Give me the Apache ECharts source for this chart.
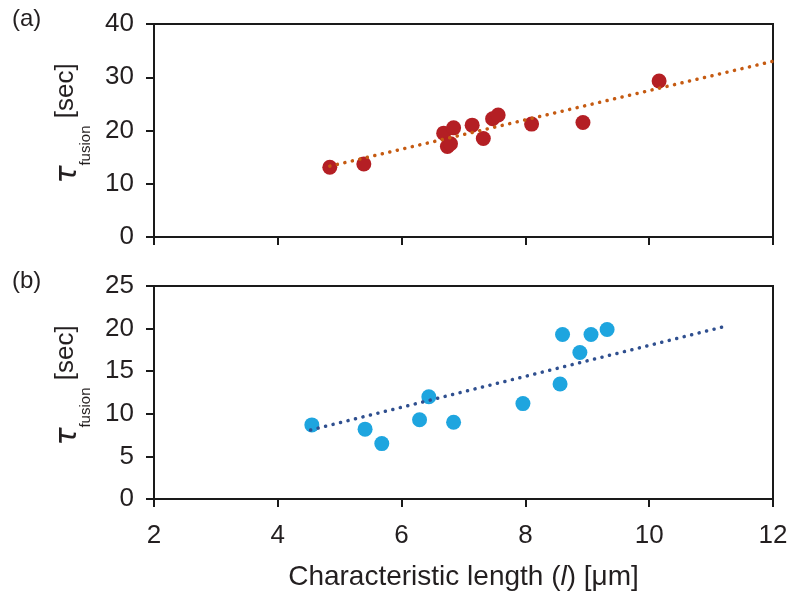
<!DOCTYPE html>
<html><head><meta charset="utf-8">
<script src="https://cdn.jsdelivr.net/npm/echarts@6/dist/echarts.min.js"></script>
<style>html,body{margin:0;padding:0;background:#fff}#c{width:791px;height:594px}</style>
</head><body><div id="c"></div>
<script>
// Panel (a)
const lengthA = [4.84, 5.39, 6.68, 6.84, 6.74, 6.79, 7.14, 7.32, 7.47, 7.56, 8.10, 8.93, 10.16];
const tauA    = [13.1, 13.7, 19.5, 20.5, 17.0, 17.5, 21.0, 18.5, 22.2, 22.9, 21.2, 21.5, 29.3];
const trendAx = [4.84, 12];
const trendAy = [13.3, 33.0];
// Panel (b)
const lengthB = [4.55, 5.41, 5.68, 6.29, 6.44, 6.84, 7.96, 8.56, 8.60, 8.88, 9.06, 9.32];
const tauB    = [8.7, 8.2, 6.5, 9.3, 12.0, 9.0, 11.2, 13.5, 19.3, 17.2, 19.3, 19.9];
const trendBx = [4.53, 11.25];
const trendBy = [8.1, 20.3];
const xTicks = [2, 4, 6, 8, 10, 12];
const yTicksA = [0, 10, 20, 30, 40];
const yTicksB = [0, 5, 10, 15, 20, 25];

const FONT = 'Liberation Sans';
const axisCol = '#1a1a1a';
const txtCol = '#231f20';
const zip = (a, b) => a.map((v, i) => [v, b[i]]);

function xAxis(idx, showLabels, name) {
  return {
    type: 'value', gridIndex: idx, min: xTicks[0], max: xTicks[xTicks.length - 1], interval: 2,
    axisLine: {lineStyle: {color: axisCol, width: 2}},
    axisTick: {show: true, inside: false, length: 8, lineStyle: {color: axisCol, width: 2}},
    axisLabel: {show: showLabels, fontFamily: FONT, fontSize: 26, color: txtCol, margin: 24},
    splitLine: {show: false},
    name: name || '', nameLocation: 'middle', nameGap: 64,
    nameTextStyle: {fontFamily: FONT, fontSize: 28, color: txtCol,
      rich: {i: {fontFamily: FONT, fontSize: 28, fontStyle: 'italic', color: txtCol}}}
  };
}
function yAxis(idx, ticks) {
  return {
    type: 'value', gridIndex: idx, min: ticks[0], max: ticks[ticks.length - 1], interval: ticks[1] - ticks[0],
    axisLine: {show: true, lineStyle: {color: axisCol, width: 2}},
    axisTick: {show: true, inside: false, length: 8, lineStyle: {color: axisCol, width: 2}},
    axisLabel: {fontFamily: FONT, fontSize: 26, color: txtCol, margin: 20},
    splitLine: {show: false},
    name: '{t|τ}{s|fusion}{u| [sec]}', nameLocation: 'middle', nameGap: 61, nameRotate: 90,
    nameTextStyle: {
      rich: {
        t: {fontFamily: 'DejaVu Sans', fontStyle: 'italic', fontSize: 30, color: txtCol, verticalAlign: 'top', lineHeight: 30, padding: [7, 0, 0, 14]},
        s: {fontFamily: FONT, fontSize: 15, color: txtCol, verticalAlign: 'bottom', padding: [32, 0, 0, 0]},
        u: {fontFamily: FONT, fontSize: 26, color: txtCol, verticalAlign: 'top', lineHeight: 30, padding: [7, 0, 0, 0]}
      }
    }
  };
}
const dot = (color) => ({color: color, width: 3.5, type: [0.1, 7.6], cap: 'round'});

const chart = echarts.init(document.getElementById('c'), null, {renderer: 'canvas'});
chart.setOption({
  animation: false,
  backgroundColor: '#fff',
  grid: [
    {left: 154, top: 24, width: 619, height: 213, show: true, borderColor: axisCol, borderWidth: 2},
    {left: 154, top: 286, width: 619, height: 213, show: true, borderColor: axisCol, borderWidth: 2}
  ],
  xAxis: [xAxis(0, false), xAxis(1, true, 'Characteristic length ({i|l}) [μm]')],
  yAxis: [yAxis(0, yTicksA), yAxis(1, yTicksB)],
  graphic: [
    {type: 'text', left: 12, top: 7, style: {text: '(a)', fontFamily: FONT, fontSize: 24, fill: txtCol}},
    {type: 'text', left: 12, top: 269, style: {text: '(b)', fontFamily: FONT, fontSize: 24, fill: txtCol}}
  ],
  series: [
    {type: 'scatter', xAxisIndex: 0, yAxisIndex: 0, data: zip(lengthA, tauA), symbolSize: 15,
      itemStyle: {color: '#b41f24', opacity: 1}, z: 2},
    {type: 'line', xAxisIndex: 0, yAxisIndex: 0, data: zip(trendAx, trendAy), symbol: 'none',
      lineStyle: dot('#c55a11'), z: 3},
    {type: 'scatter', xAxisIndex: 1, yAxisIndex: 1, data: zip(lengthB, tauB), symbolSize: 15,
      itemStyle: {color: '#1ea5df', opacity: 1}, z: 2},
    {type: 'line', xAxisIndex: 1, yAxisIndex: 1, data: zip(trendBx, trendBy), symbol: 'none',
      lineStyle: dot('#2f4f8f'), z: 3}
  ]
});
</script></body></html>
